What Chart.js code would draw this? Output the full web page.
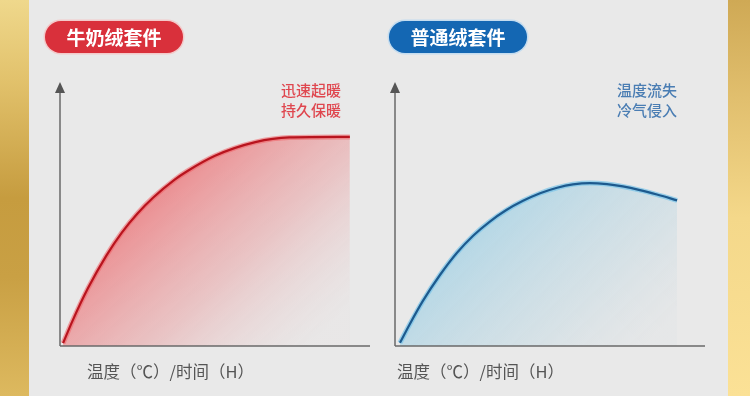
<!DOCTYPE html>
<html>
<head>
<meta charset="utf-8">
<script src="https://cdn.jsdelivr.net/npm/chart.js@4"></script>
<style>
  html,body{margin:0;padding:0;width:750px;height:396px;overflow:hidden;}
  body{position:relative;font-family:"Noto Sans CJK SC","Noto Sans",sans-serif;background:#e9e9e9;}
  .gold-l{position:absolute;left:0;top:0;width:29px;height:396px;
    background:linear-gradient(180deg,#efd88c 0%,#e2c26c 20%,#c69c3f 50%,#c9a044 70%,#ddb95f 100%);}
  .gold-r{position:absolute;left:728px;top:0;width:22px;height:396px;
    background:linear-gradient(180deg,#cfa955 0%,#e1bf6e 25%,#f4d88a 55%,#fbe196 100%);}
  .panel{position:absolute;left:29px;top:0;width:699px;height:396px;background:#e9e9e9;}
  canvas{position:absolute;top:0;}
  .badge{position:absolute;top:21px;width:138px;height:32px;border-radius:16px;color:#fff;
    font-weight:700;font-size:19px;line-height:32px;text-align:center;box-sizing:border-box;}
  .note{position:absolute;top:80px;font-size:15px;line-height:20px;font-weight:500;}
  .xlab{position:absolute;top:360px;font-size:16.5px;line-height:22px;color:#555;}
</style>
</head>
<body>
<div class="gold-l"></div>
<div class="panel"></div>
<div class="gold-r"></div>
<canvas id="c1" width="375" height="396" style="left:0px"></canvas>
<canvas id="c2" width="375" height="396" style="left:375px"></canvas>
<div id="b1" class="badge" style="left:45px;background:#d9303b;box-shadow:0 0 0 1.5px #f3c9c9;"></div>
<div id="b2" class="badge" style="left:389px;background:#1467b3;box-shadow:0 0 0 1.5px #c4dcef;"></div>
<div id="n1" class="note" style="right:409px;text-align:right;color:#df474f;"></div>
<div id="n2" class="note" style="left:617px;color:#4a7db3;"></div>
<div id="x1" class="xlab" style="left:87px;"></div>
<div id="x2" class="xlab" style="left:397px;"></div>
<script>
// ---- data ----
const seriesNames = ["牛奶绒套件", "普通绒套件"];
const notes = [["迅速起暖", "持久保暖"], ["温度流失", "冷气侵入"]];
const axisLabel = "温度（℃）/时间（H）";

const timeRed = [0.1, 0.4, 0.9, 1.5, 2, 2.5, 3, 3.7, 4.1, 5, 6.3, 7.4, 9.35];
const tempRed = [1.1, 9.5, 22.0, 34.6, 43.4, 50.6, 56.6, 63.5, 66.7, 72.6, 77.8, 79.6, 79.8];

const timeBlue = [0.16, 0.48, 0.9, 1.45, 2, 2.52, 3.06, 3.58, 4.13, 4.68, 5.23, 5.74, 6.29, 6.84, 7.35, 7.9, 8.45, 9.1];
const tempBlue = [1.2, 8.4, 17.2, 27.1, 35.6, 42.1, 47.5, 51.8, 55.4, 58.3, 60.4, 61.7, 62.2, 61.8, 60.9, 59.5, 57.8, 55.6];

const xMin = 0, xMax = 10, yMin = 0, yMax = 100;

// ---- text ----
document.getElementById('b1').textContent = seriesNames[0];
document.getElementById('b2').textContent = seriesNames[1];
document.getElementById('n1').innerHTML = notes[0].join('<br>');
document.getElementById('n2').innerHTML = notes[1].join('<br>');
document.getElementById('x1').textContent = axisLabel;
document.getElementById('x2').textContent = axisLabel;

function pts(xs, ys){ return xs.map((x,i)=>({x:x, y:ys[i]})); }

const axesPlugin = {
  id: 'axesArrow',
  afterDatasetsDraw(chart){
    const a = chart.chartArea, ctx = chart.ctx;
    ctx.save();
    ctx.strokeStyle = '#6a6a6a';
    ctx.fillStyle = '#555';
    ctx.lineWidth = 1.5;
    ctx.beginPath();
    ctx.moveTo(a.left, a.bottom);
    ctx.lineTo(a.right, a.bottom);
    ctx.moveTo(a.left, a.bottom);
    ctx.lineTo(a.left, a.top + 8);
    ctx.stroke();
    ctx.beginPath();
    ctx.moveTo(a.left, a.top - 2);
    ctx.lineTo(a.left - 5, a.top + 9);
    ctx.lineTo(a.left + 5, a.top + 9);
    ctx.closePath();
    ctx.fill();
    ctx.restore();
  }
};

function makeChart(id, data, padL, padR, fillFn, haloColor, lineColor){
  const common = { pointRadius: 0, cubicInterpolationMode: 'monotone' };
  return new Chart(document.getElementById(id), {
    type: 'line',
    data: {
      datasets: [
        Object.assign({ data: data, order: 3, borderWidth: 0, fill: 'origin',
          backgroundColor: fillFn, borderColor: 'rgba(0,0,0,0)' }, common),
        Object.assign({ data: data, order: 2, borderWidth: 5, fill: false, borderColor: haloColor }, common),
        Object.assign({ data: data, order: 1, borderWidth: 2.2, fill: false, borderColor: lineColor }, common)
      ]
    },
    options: {
      responsive: false,
      animation: false,
      devicePixelRatio: 1,
      layout: { padding: { left: padL, right: padR, top: 84, bottom: 50 } },
      plugins: { legend: { display: false }, tooltip: { enabled: false } },
      scales: {
        x: { type: 'linear', min: xMin, max: xMax, display: false },
        y: { type: 'linear', min: yMin, max: yMax, display: false }
      }
    },
    plugins: [axesPlugin]
  });
}

function redFill(ctx){
  const a = ctx.chart.chartArea;
  if (!a) return 'rgba(0,0,0,0)';
  const g = ctx.chart.ctx.createLinearGradient(a.left, a.top, a.left + (a.right - a.left) * 0.8, a.bottom);
  g.addColorStop(0, 'rgba(236,100,106,0.9)');
  g.addColorStop(0.4, 'rgba(236,108,112,0.72)');
  g.addColorStop(0.7, 'rgba(234,140,142,0.4)');
  g.addColorStop(1, 'rgba(232,200,200,0.06)');
  return g;
}
function blueFill(ctx){
  const a = ctx.chart.chartArea;
  if (!a) return 'rgba(0,0,0,0)';
  const g = ctx.chart.ctx.createLinearGradient(a.left, a.top, a.left + (a.right - a.left) * 0.8, a.bottom);
  g.addColorStop(0, 'rgba(145,203,228,0.8)');
  g.addColorStop(0.45, 'rgba(150,205,228,0.62)');
  g.addColorStop(0.8, 'rgba(175,210,225,0.3)');
  g.addColorStop(1, 'rgba(200,215,225,0.1)');
  return g;
}

makeChart('c1', pts(timeRed, tempRed), 60, 5, redFill, 'rgba(240,95,100,0.55)', '#b8141e');
makeChart('c2', pts(timeBlue, tempBlue), 20, 45, blueFill, 'rgba(120,195,232,0.7)', '#1d5a8e');
</script>
</body>
</html>
